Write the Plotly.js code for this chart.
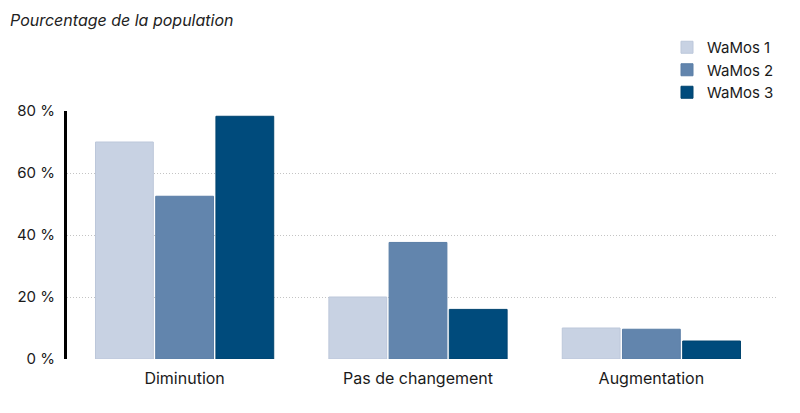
<!DOCTYPE html>
<html><head><meta charset="utf-8">
<script src="https://cdn.plot.ly/plotly-3.0.1.min.js"></script>
<style>body{margin:0;background:#fff}#chart{width:800px;height:413px}</style>
</head><body><div id="chart"></div>
<script>
const categories = ["Diminution", "Pas de changement", "Augmentation"];
const seriesNames = ["WaMos 1", "WaMos 2", "WaMos 3"];
const wamos1 = [70, 20, 10];
const wamos2 = [52.5, 37.6, 9.6];
const wamos3 = [78.3, 16, 5.8];
const tickVals = [0, 20, 40, 60, 80];
const tickText = ["0 %", "20 %", "40 %", "60 %", "80 %"];
const colors = ["#c8d2e3", "#6285ad", "#004b7c"];
const lineColors = ["#bcc7da", "#5a7ea6", "#00446f"];
const values = [wamos1, wamos2, wamos3];

const FONT = "Inter, 'Liberation Sans', sans-serif";
const traces = values.map((v, i) => ({
  type: "bar", x: categories, y: v, name: seriesNames[i],
  marker: {color: colors[i], line: {color: lineColors[i], width: 1}},
  hoverinfo: "skip"
}));

const layout = {
  width: 800, height: 413,
  margin: {l: 67, r: 24, t: 111, b: 54, autoexpand: false},
  paper_bgcolor: "#fff", plot_bgcolor: "#fff",
  font: {family: FONT, color: "#1a1a1a", size: 15},
  title: {text: "Pourcentage de la population", x: 10/800, xref: "container", xanchor: "left",
          y: 1 - 20/413, yref: "container", yanchor: "middle",
          font: {family: FONT, size: 16, style: "italic", color: "#222"}},
  barmode: "group", bargap: 0.226, bargroupgap: 0.04,
  xaxis: {type: "category", range: [-0.504, 2.534], showgrid: false, zeroline: false,
          showline: false, ticks: "", ticklabelstandoff: 8, tickfont: {size: 16, color: "#1a1a1a"}, fixedrange: true},
  yaxis: {range: [0, 80], tickvals: tickVals, ticktext: tickText, showgrid: true,
          gridcolor: "#c4c4c4", griddash: "1px,2px", gridwidth: 1, zeroline: false,
          showline: true, linecolor: "#000", linewidth: 3, ticks: "", ticklabelstandoff: 6,
          tickfont: {size: 15, color: "#1a1a1a"}, fixedrange: true},
  showlegend: true,
  legend: {x: 667/800, xref: "container", y: 1 - 31/413, yref: "container", xanchor: "left", yanchor: "top",
           font: {size: 15, color: "#1a1a1a"}, itemwidth: 30, tracegroupgap: 0,
           bgcolor: "rgba(0,0,0,0)"}
};
Plotly.newPlot("chart", traces, layout, {displayModeBar: false, staticPlot: true});
</script></body></html>
